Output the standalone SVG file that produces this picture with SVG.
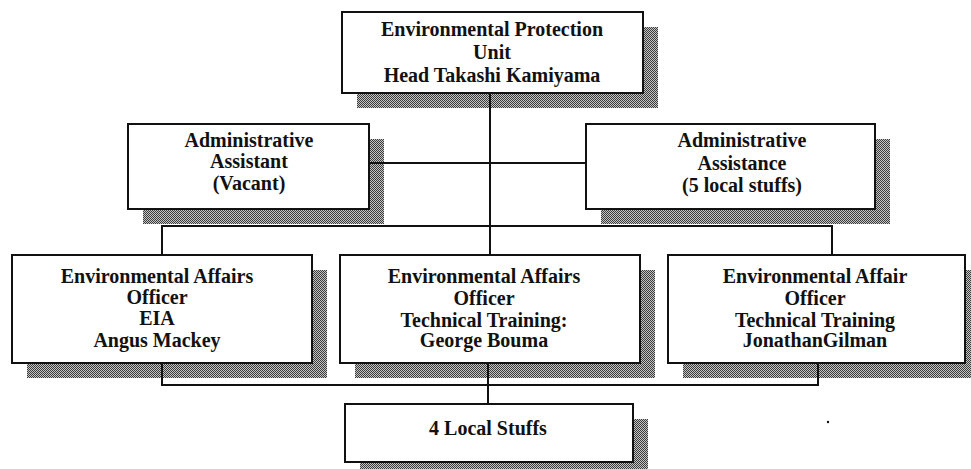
<svg xmlns="http://www.w3.org/2000/svg" width="971" height="469" viewBox="0 0 971 469">
<defs>
<pattern id="halftone" width="2" height="2" patternUnits="userSpaceOnUse">
<rect width="2" height="2" fill="#c4c4c4"/>
<rect width="1" height="1" fill="#3c3c3c"/>
<rect x="1" y="1" width="1" height="1" fill="#3c3c3c"/>
</pattern>
</defs>
<style>
.shadow{fill:url(#halftone);stroke:none}
.box{fill:#fff;stroke:#111;stroke-width:2}
.conn{stroke:#111;stroke-width:2;fill:none}
text{font-family:"Liberation Serif","Times New Roman",serif;font-weight:bold;font-size:20px;fill:#111;text-anchor:middle}
</style>
<rect width="971" height="469" fill="#fff"/>
<g id="shadows">
<rect class="shadow" x="357" y="27" width="301" height="81"/>
<rect class="shadow" x="143" y="139" width="241" height="85"/>
<rect class="shadow" x="601" y="139" width="289" height="85"/>
<rect class="shadow" x="27" y="270" width="300" height="108"/>
<rect class="shadow" x="355" y="270" width="300" height="108"/>
<rect class="shadow" x="683" y="270" width="297" height="108"/>
<rect class="shadow" x="360" y="419" width="288" height="58"/>
</g>
<g id="connectors">
<line class="conn" x1="490" y1="93" x2="490" y2="255"/>
<line class="conn" x1="369" y1="163" x2="586" y2="163"/>
<polyline class="conn" points="162,255 162,226 832,226 832,255"/>
<polyline class="conn" points="162,363 162,385 818,385 818,363"/>
<line class="conn" x1="488" y1="363" x2="488" y2="404"/>
</g>
<g id="head">
<rect class="box" x="342" y="12" width="301" height="81"/>
<text x="492" y="36">Environmental Protection</text>
<text x="492" y="59">Unit</text>
<text x="492" y="82">Head Takashi Kamiyama</text>
</g>
<g id="admin-assistant">
<rect class="box" x="128" y="124" width="241" height="85"/>
<text x="249" y="147">Administrative</text>
<text x="249" y="168">Assistant</text>
<text x="249" y="190">(Vacant)</text>
</g>
<g id="admin-assistance">
<rect class="box" x="586" y="124" width="289" height="85"/>
<text x="742" y="147">Administrative</text>
<text x="742" y="170">Assistance</text>
<text x="742" y="192">(5 local stuffs)</text>
</g>
<g id="officer-eia">
<rect class="box" x="12" y="255" width="300" height="108"/>
<text x="157" y="283">Environmental Affairs</text>
<text x="157" y="304">Officer</text>
<text x="157" y="325">EIA</text>
<text x="157" y="347">Angus Mackey</text>
</g>
<g id="officer-bouma">
<rect class="box" x="340" y="255" width="300" height="108"/>
<text x="484" y="283">Environmental Affairs</text>
<text x="484" y="305">Officer</text>
<text x="484" y="327">Technical Training:</text>
<text x="484" y="347">George Bouma</text>
</g>
<g id="officer-gilman">
<rect class="box" x="668" y="255" width="297" height="108"/>
<text x="815" y="283">Environmental Affair</text>
<text x="815" y="305">Officer</text>
<text x="815" y="327">Technical Training</text>
<text x="815" y="347">JonathanGilman</text>
</g>
<g id="local-stuffs">
<rect class="box" x="345" y="404" width="288" height="58"/>
<text x="488" y="435">4 Local Stuffs</text>
</g>
<circle cx="828" cy="422" r="1.2" fill="#111"/>
</svg>
